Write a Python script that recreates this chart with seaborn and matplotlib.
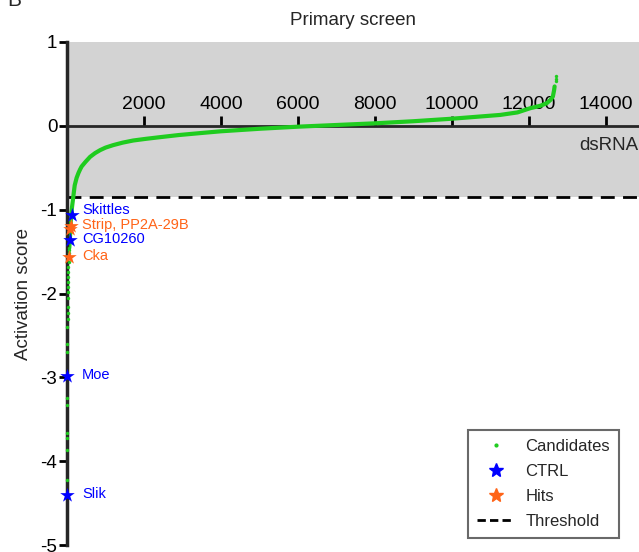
import numpy as np
import pandas as pd
import matplotlib
matplotlib.use('Agg')
import matplotlib.pyplot as plt
import seaborn as sns
from matplotlib.lines import Line2D

sns.set_theme(style='white')
plt.rcParams['font.family'] = ['Liberation Sans', 'DejaVu Sans']
plt.rcParams['axes.unicode_minus'] = False

# 排序后的候选 dsRNA
curve_rank = [60, 80, 100, 130, 165, 200, 250, 300, 340, 380, 480, 600, 730, 860, 1000,
              1200, 1450, 1720, 2050, 2420, 2900, 3500, 4000, 5000, 6000, 6500, 7000,
              8000, 9000, 10000, 11250, 11700, 12030, 12300, 12460, 12560, 12620,
              12650, 12665]
curve_score = [-1.45, -1.3, -1.12, -0.97, -0.84, -0.71, -0.62, -0.56, -0.52, -0.485,
               -0.43, -0.37, -0.325, -0.29, -0.26, -0.23, -0.2, -0.175, -0.155, -0.135,
               -0.11, -0.085, -0.065, -0.035, -0.01, 0.0, 0.01, 0.03, 0.055, 0.085,
               0.13, 0.16, 0.21, 0.24, 0.27, 0.31, 0.35, 0.42, 0.47]

# 两端零散的点
dots_rank = [1, 2, 3, 4, 5, 6, 8, 10, 12, 14, 16, 18, 20, 22, 25, 28, 31, 34, 37, 40,
             44, 48, 52, 56, 12690, 12695, 12700]
dots_score = [-4.22, -3.87, -3.72, -3.66, -3.33, -3.25, -2.7, -2.6, -2.4, -2.3, -2.23,
              -2.16, -2.05, -1.98, -1.92, -1.86, -1.8, -1.74, -1.68, -1.62, -1.56,
              -1.52, -1.48, -1.46, 0.53, 0.56, 0.59]

ctrl_names = ['Skittles', 'CG10260', 'Moe', 'Slik']
ctrl_rank = [120, 78, 5, 1]
ctrl_score = [-1.06, -1.36, -2.98, -4.40]

hit_names = ['Strip, PP2A-29B', '', 'Cka']
hit_rank = [95, 90, 60]
hit_score = [-1.2, -1.23, -1.57]

threshold = -0.85
x_ticks = [2000, 4000, 6000, 8000, 10000, 12000, 14000]
y_ticks = [1, 0, -1, -2, -3, -4, -5]

green = '#1fcc1f'
blue = '#0000ff'
orange = '#ff6418'

curve = pd.DataFrame({'rank': curve_rank, 'score': curve_score})
dots = pd.DataFrame({'rank': dots_rank, 'score': dots_score})
ctrl = pd.DataFrame({'rank': ctrl_rank, 'score': ctrl_score})
hits = pd.DataFrame({'rank': hit_rank, 'score': hit_score})

fig = plt.figure(figsize=(6.39, 5.52), dpi=100)
ax = fig.add_axes([67 / 639, 1 - 545 / 552, 1 - 67 / 639, (545 - 42) / 552])

ax.axhspan(threshold, 1, color='#d3d3d3', zorder=0, lw=0)
ax.axhline(threshold, color='black', lw=2, ls=(0, (5, 3)), zorder=2)

sns.lineplot(data=curve, x='rank', y='score', color=green, lw=3, ax=ax, zorder=4)
sns.scatterplot(data=dots, x='rank', y='score', color=green, s=6, lw=0, ax=ax,
                zorder=6, clip_on=False)
sns.scatterplot(data=hits, x='rank', y='score', color=orange, marker='*', s=120,
                lw=0, ax=ax, zorder=7, clip_on=False)
sns.scatterplot(data=ctrl, x='rank', y='score', color=blue, marker='*', s=120,
                lw=0, ax=ax, zorder=7, clip_on=False)

# 文字略高于星号
for n, s in zip(ctrl_names, ctrl_score):
    dy = 0.06 if n == 'Skittles' else 0.01
    ax.text(390, s + dy, n, color=blue, fontsize=10.5, va='center', ha='left')
for n, s in zip(hit_names, hit_score):
    if n:
        ax.text(390, s + 0.02, n, color=orange, fontsize=10.5, va='center', ha='left')

ax.set_xlim(0, (639 - 67) / 77 * 2000)
ax.set_ylim(-5, 1)

# x 轴放在 y=0 处，刻度和标签朝上
ax.spines['bottom'].set_visible(False)
ax.spines['right'].set_visible(False)
ax.spines['top'].set_position(('data', 0))
ax.spines['top'].set_linewidth(2)
ax.spines['top'].set_zorder(3)
ax.spines['left'].set_linewidth(2.5)
ax.spines['left'].set_zorder(5)
ax.xaxis.tick_top()
ax.set_xticks(x_ticks)
ax.set_xticklabels([str(t) for t in x_ticks])
ax.set_yticks(y_ticks)
ax.tick_params(axis='x', direction='out', length=7, width=2, labelsize=14, pad=2,
               colors='black')
ax.tick_params(axis='y', direction='out', length=6, width=2, labelsize=13.5, pad=1,
               left=True, colors='black')
ax.set_xlabel('')
ax.set_ylabel('Activation score', fontsize=13.5, labelpad=6)
ax.set_title('Primary screen', fontsize=13.5, pad=12)
ax.text(13300, -0.23, 'dsRNA', fontsize=13.5, va='center', ha='left')

fig.text(0.012, 0.999, 'B', fontsize=15, va='center', ha='left')

handles = [
    Line2D([], [], marker='o', color=green, ls='', markersize=2),
    Line2D([], [], marker='*', color=blue, ls='', markersize=10),
    Line2D([], [], marker='*', color=orange, ls='', markersize=10),
    Line2D([], [], color='black', lw=2, ls=(0, (3, 1.5))),
]
leg = ax.legend(handles, ['Candidates', 'CTRL', 'Hits', 'Threshold'],
                loc='upper left', bbox_to_anchor=(468 / 639, 1 - 430 / 552),
                bbox_transform=fig.transFigure, fontsize=12, frameon=True,
                fancybox=False, edgecolor='#444444', handlelength=2.2,
                handletextpad=0.7, labelspacing=0.6, borderpad=0.55,
                borderaxespad=0)
leg.get_frame().set_linewidth(1.5)

fig.savefig('out.png', dpi=100)
